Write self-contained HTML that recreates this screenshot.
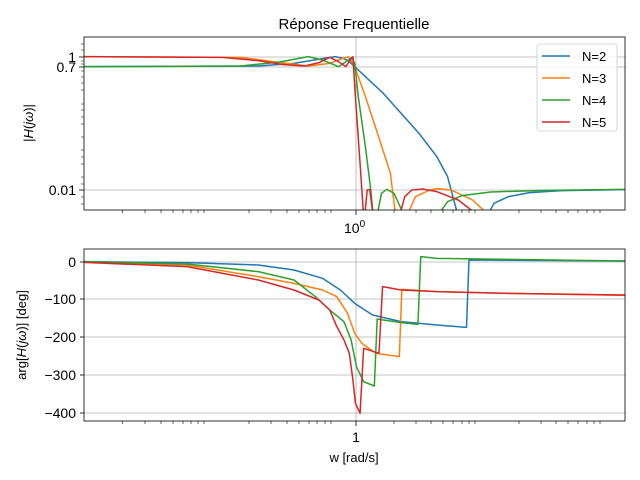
<!DOCTYPE html>
<html><head><meta charset="utf-8"><style>
html,body{margin:0;padding:0;background:#fff}
svg{display:block;font-family:"Liberation Sans","DejaVu Sans",sans-serif}
</style></head><body>
<svg width="640" height="480" viewBox="0 0 640 480" xmlns="http://www.w3.org/2000/svg">
<defs>
<clipPath id="c1"><rect x="84" y="37" width="541" height="173"/></clipPath>
<clipPath id="c2"><rect x="84" y="249" width="541" height="172"/></clipPath>
</defs>
<rect width="640" height="480" fill="#fff"/>
<text x="354" y="29" font-size="15" text-anchor="middle">Réponse Frequentielle</text>
<g stroke="#b0b0b0" stroke-width="0.8">
<line x1="84" y1="57" x2="625" y2="57"/><line x1="84" y1="67" x2="625" y2="67"/><line x1="84" y1="190" x2="625" y2="190"/>
<line x1="356" y1="37" x2="356" y2="210"/>
<line x1="84" y1="299" x2="625" y2="299"/><line x1="84" y1="337" x2="625" y2="337"/><line x1="84" y1="375" x2="625" y2="375"/><line x1="84" y1="413" x2="625" y2="413"/><line x1="84" y1="262" x2="625" y2="262"/>
<line x1="356" y1="249" x2="356" y2="421"/>
</g>
<g fill="none" stroke-width="1.5" stroke-linejoin="round">
<g clip-path="url(#c1)"><g transform="translate(79.7,30) scale(0.35714,0.33333)">
<polyline vector-effect="non-scaling-stroke" stroke="#1f77b4" points="12,110 500,108 600,100 680,86 715,80 740,86 755,95 770,110 850,190 950,310 1000,380 1030,440 1060,560"/>
<polyline vector-effect="non-scaling-stroke" stroke="#1f77b4" points="1140,560 1160,520 1200,500 1260,488 1350,482 1527,479"/>
<polyline vector-effect="non-scaling-stroke" stroke="#ff7f0e" points="12,80 450,82 550,96 640,108 700,100 735,86 752,80 770,110 800,200 840,330 870,430 885,560"/>
<polyline vector-effect="non-scaling-stroke" stroke="#ff7f0e" points="915,560 940,500 980,480 1000,476 1040,480 1100,510 1150,560"/>
<polyline vector-effect="non-scaling-stroke" stroke="#2ca02c" points="12,110 450,108 560,96 640,80 680,90 725,110 750,92 762,82 770,100 780,200 800,350 815,480 822,560"/>
<polyline vector-effect="non-scaling-stroke" stroke="#2ca02c" points="832,560 845,490 860,478 880,490 910,560"/>
<polyline vector-effect="non-scaling-stroke" stroke="#2ca02c" points="1000,560 1030,515 1070,497 1150,486 1300,481 1527,478"/>
<polyline vector-effect="non-scaling-stroke" stroke="#d62728" points="12,80 400,82 500,92 570,104 630,108 670,98 700,82 725,95 745,110 758,90 765,80 772,200 785,400 795,560"/>
<polyline vector-effect="non-scaling-stroke" stroke="#d62728" points="798,560 805,480 812,478 822,560"/>
<polyline vector-effect="non-scaling-stroke" stroke="#d62728" points="895,560 910,500 930,480 960,477 1000,485 1060,510 1120,560"/>
</g></g>
<g clip-path="url(#c2)"><g transform="translate(79.7,240) scale(0.35714,0.33333)">
<polyline vector-effect="non-scaling-stroke" stroke="#1f77b4" points="12,65 300,68 500,75 600,90 680,115 730,150 770,190 820,225 900,245 1000,255 1083,262 1090,60 1527,63"/>
<polyline vector-effect="non-scaling-stroke" stroke="#ff7f0e" points="12,65 300,75 500,110 600,130 680,150 720,170 750,220 770,280 790,310 830,340 895,350 902,148 1000,155 1200,160 1527,166"/>
<polyline vector-effect="non-scaling-stroke" stroke="#2ca02c" points="12,65 300,72 500,95 600,120 660,170 700,210 740,245 760,300 775,380 795,425 825,438 833,237 900,248 947,253 955,50 1000,55 1527,63"/>
<polyline vector-effect="non-scaling-stroke" stroke="#d62728" points="12,67 300,80 500,120 600,150 670,180 700,210 720,260 740,300 755,340 765,420 772,490 785,520 795,325 838,340 848,140 900,150 1000,155 1200,160 1527,165"/>
</g></g>
</g>
<rect x="84" y="37" width="541" height="173" fill="none" stroke="#000" stroke-width="0.8"/>
<rect x="84" y="249" width="541" height="172" fill="none" stroke="#000" stroke-width="0.8"/>
<g stroke="#000" stroke-width="0.8">
<line x1="356" y1="210" x2="356" y2="215"/><line x1="356" y1="421" x2="356" y2="426"/>
<line x1="84" y1="57" x2="79" y2="57"/><line x1="84" y1="67" x2="79" y2="67"/><line x1="84" y1="190" x2="79" y2="190"/>
<line x1="84" y1="262" x2="80" y2="262"/><line x1="84" y1="299" x2="80" y2="299"/><line x1="84" y1="337" x2="80" y2="337"/><line x1="84" y1="375" x2="80" y2="375"/><line x1="84" y1="413" x2="80" y2="413"/>
</g>
<g stroke="#000" stroke-width="0.6">
<path d="M122.7,210v3M145,210v3M161,210v3M173,210v3M183,210v3M191,210v3M198,210v3M204,210v3M249,210v3M271,210v3M287,210v3M299,210v3M309,210v3M317,210v3M325,210v3M331,210v3M394,210v3M416,210v3M431,210v3M443,210v3M453,210v3M462,210v3M469,210v3M475,210v3M519,210v3M541,210v3M556,210v3M568,210v3M578,210v3M587,210v3M594,210v3M600,210v3"/>
<path d="M122.7,421v3M145,421v3M161,421v3M173,421v3M183,421v3M191,421v3M198,421v3M204,421v3M249,421v3M271,421v3M287,421v3M299,421v3M309,421v3M317,421v3M325,421v3M331,421v3M394,421v3M416,421v3M431,421v3M443,421v3M453,421v3M462,421v3M469,421v3M475,421v3M519,421v3M541,421v3M556,421v3M568,421v3M578,421v3M587,421v3M594,421v3M600,421v3"/>
<path d="M84,44h-3M84,50h-3M84,61h-3M84,64h-3M84,71h-3M84,77h-3M84,83h-3M84,90h-3M84,104h-3M84,110h-3M84,117h-3M84,124h-3M84,137h-3M84,150h-3M84,157h-3M84,164h-3M84,177h-3M84,184h-3M84,197h-3M84,204h-3"/>
</g>
<g font-size="14" fill="#000">
<text x="76" y="62" text-anchor="end">1</text>
<text x="76" y="72" text-anchor="end">0.7</text>
<text x="76" y="195" text-anchor="end">0.01</text>
<text x="344" y="233">10<tspan font-size="10" dy="-6">0</tspan></text>
<text x="356" y="442" text-anchor="middle">1</text>
<text x="76" y="267" text-anchor="end">0</text>
<text x="76" y="304" text-anchor="end">−100</text>
<text x="76" y="342" text-anchor="end">−200</text>
<text x="76" y="380" text-anchor="end">−300</text>
<text x="76" y="418" text-anchor="end">−400</text>
<text x="354" y="462" text-anchor="middle" font-size="13">w [rad/s]</text>
<text transform="translate(33,123) rotate(-90)" text-anchor="middle" font-size="13">|<tspan font-style="italic">H</tspan>(<tspan font-style="italic">jω</tspan>)|</text>
<text transform="translate(26,335) rotate(-90)" text-anchor="middle" font-size="13">arg[<tspan font-style="italic">H</tspan>(<tspan font-style="italic">jω</tspan>)] [deg]</text>
</g>
<rect x="537" y="44" width="80" height="87" rx="3" fill="#fff" fill-opacity="0.85" stroke="#ccc" stroke-width="0.8"/>
<g stroke-width="1.5">
<line x1="542" y1="56" x2="570" y2="56" stroke="#1f77b4"/>
<line x1="542" y1="78" x2="570" y2="78" stroke="#ff7f0e"/>
<line x1="542" y1="100" x2="570" y2="100" stroke="#2ca02c"/>
<line x1="542" y1="122" x2="570" y2="122" stroke="#d62728"/>
</g>
<g font-size="13" fill="#000">
<text x="582" y="61">N=2</text><text x="582" y="83">N=3</text><text x="582" y="105">N=4</text><text x="582" y="127">N=5</text>
</g>
</svg>
</body></html>
